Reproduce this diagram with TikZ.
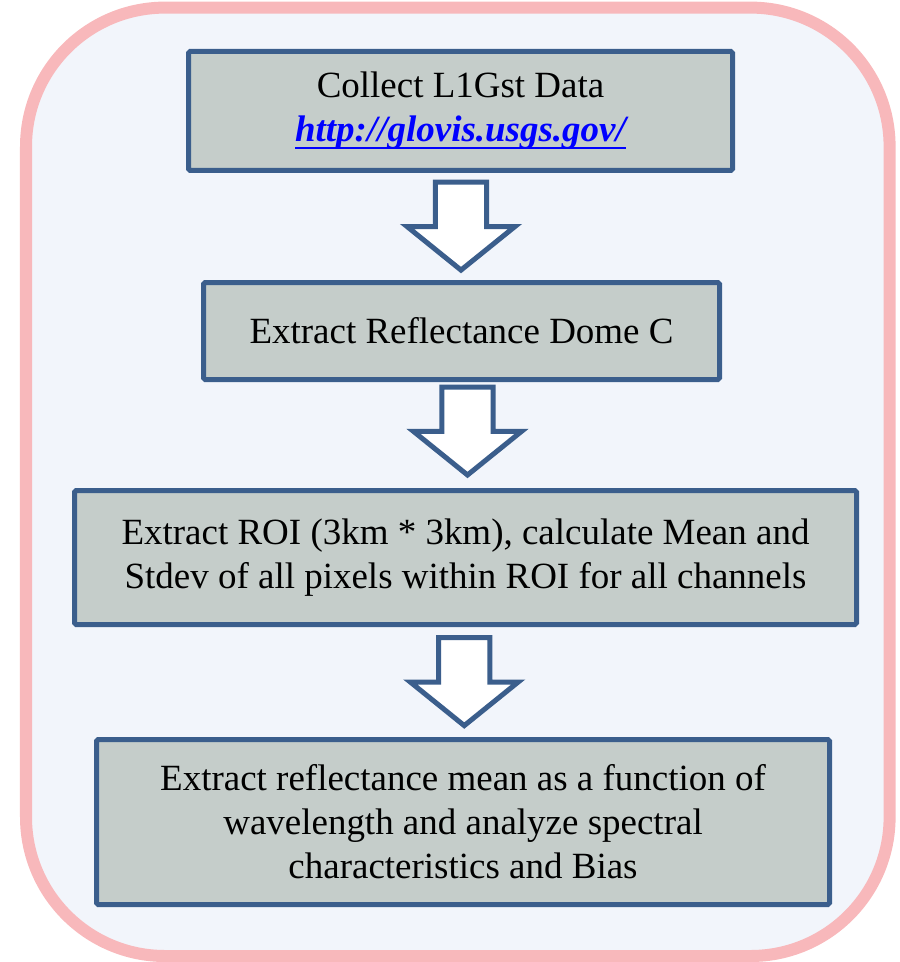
\documentclass[tikz,border=0pt]{standalone}
\usepackage{fontspec}
\setmainfont{Liberation Serif}
\usetikzlibrary{calc}

\definecolor{framepink}{HTML}{F8B8BB}
\definecolor{framefill}{HTML}{F2F5FB}
\definecolor{boxline}{HTML}{3B5E8C}
\definecolor{boxfill}{HTML}{C5CDCA}
\definecolor{urlblue}{HTML}{0000FF}

% dicke Unterstreichung fuer den Link
\newcommand{\linkline}[1]{\setbox0\hbox{#1}%
    \rlap{\rule[-0.19em]{\wd0}{0.055em}}\box0}

\tikzset{stepbox/.style={draw = boxline,
    fill = boxfill,
    line width = 0.125cm,
    rounded corners = 0.04cm,
    align = center,
    inner sep = 0pt,
    font = \fontsize{26.3}{31.3}\selectfont}}
\tikzset{arrowline/.style={draw = boxline,
    fill = white,
    line width = 0.125cm,
    line join = miter}}
\tikzset{blockarrow/.style={%
insert path={++(-0.64,1.11) -- ++(1.28,0) -- ++(0,-1.11) -- ++(0.71,0)
    -- ++(-1.35,-1.09) -- ++(-1.35,1.09) -- ++(0.71,0) -- cycle}}}

\begin{document}
\begin{tikzpicture}

    \useasboundingbox (0,0) rectangle (22.5,-24.05);

    %Rahmen
    \draw[framepink, fill = framefill, line width = 0.3cm,
        rounded corners = 3.475cm] (0.65,-0.19) rectangle (22.24,-23.9);

    %Kaesten
    \node[stepbox,
        minimum width = 13.6cm,
        minimum height = 2.975cm] (collect) at (11.5125,-2.775)
        {Collect L1Gst Data\\
        {\color{urlblue}\bfseries\itshape\linkline{http://glovis.usgs.gov/}}};
    \node[stepbox,
        minimum width = 12.9cm,
        minimum height = 2.425cm] (dome) at (11.5375,-8.275)
        {Extract Reflectance Dome C};
    \node[stepbox,
        minimum width = 19.55cm,
        minimum height = 3.35cm] (roi) at (11.6375,-13.9375)
        {Extract ROI (3km * 3km), calculate Mean and\\
        Stdev of all pixels within ROI for all channels};
    \node[stepbox,
        minimum width = 18.325cm,
        minimum height = 4.125cm] (bias) at (11.575,-20.55)
        {Extract reflectance mean as a function of\\
        wavelength and analyze spectral\\
        characteristics and Bias};

    %Pfeile
    \draw[arrowline] ($(collect.south)!0.5!(dome.north)$) [blockarrow];
    \draw[arrowline] ($(dome.south)!0.5!(roi.north)+(0.1,0.09)$) [blockarrow];
    \draw[arrowline] ($(roi.south)!0.5!(bias.north)$) [blockarrow];

\end{tikzpicture}
\end{document}
